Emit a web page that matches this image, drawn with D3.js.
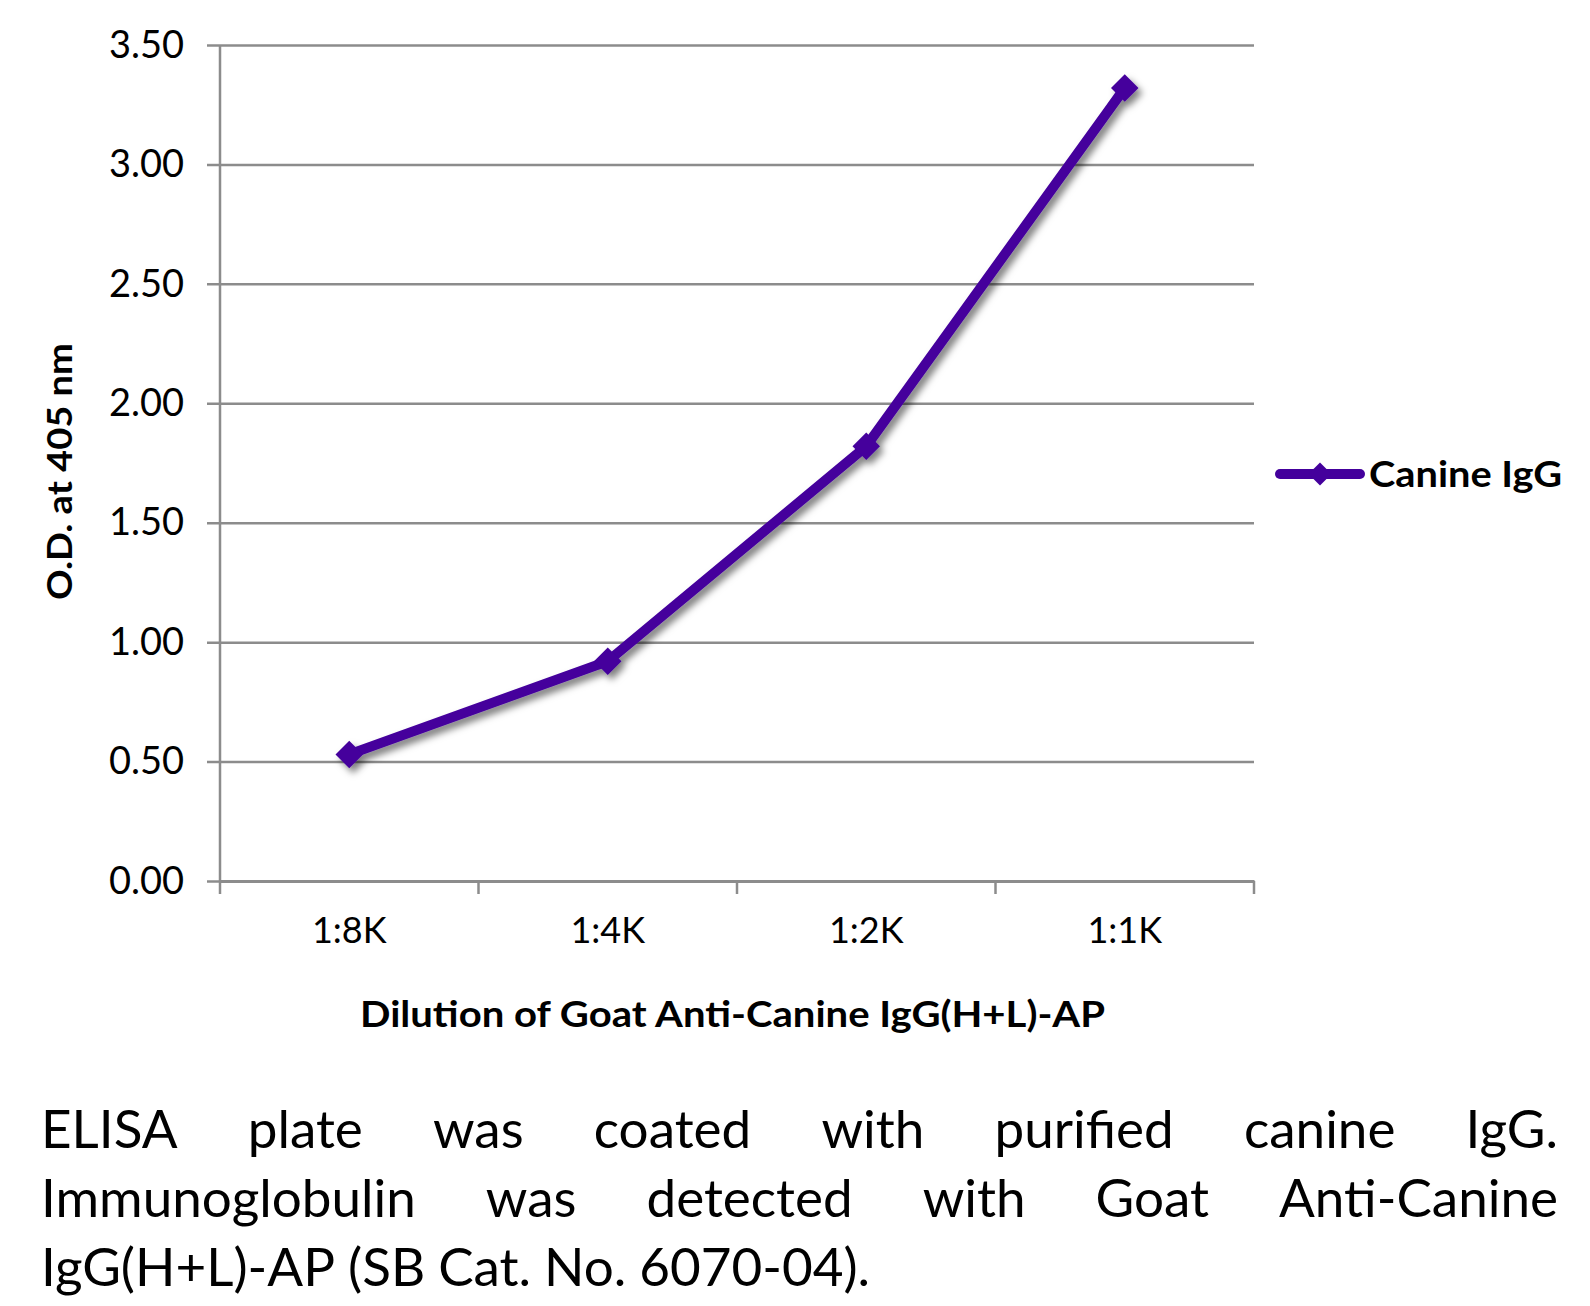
<!DOCTYPE html>
<html>
<head>
<meta charset="utf-8">
<script src="https://cdn.jsdelivr.net/npm/d3@7"></script>
<style>
  body { margin: 0; background: #fff; }
  svg { display: block; }
</style>
</head>
<body>
<svg id="chart" width="1590" height="1306"></svg>
<script>
// ---- Data ----
const dilutions = ["1:8K", "1:4K", "1:2K", "1:1K"];
const odValues = [0.53, 0.92, 1.82, 3.32];
const yTicks = [0, 0.5, 1, 1.5, 2, 2.5, 3, 3.5];
const seriesName = "Canine IgG";
const xTitle = "Dilution of Goat Anti-Canine IgG(H+L)-AP";
const yTitle = "O.D. at 405 nm";
const captionLines = [
  ["ELISA", "plate", "was", "coated", "with", "purified", "canine", "IgG."],
  ["Immunoglobulin", "was", "detected", "with", "Goat", "Anti-Canine"],
  ["IgG(H+L)-AP", "(SB", "Cat.", "No.", "6070-04)."]
];

// ---- Layout ----
const plot = { left: 220, right: 1254, top: 45, bottom: 881 };
const purple = "#44009c";
const gridColor = "#8c8c8c";
const font = "Lato, 'Open Sans', sans-serif";

const svg = d3.select("#chart");

const defs = svg.append("defs");
const shadow = defs.append("filter").attr("id", "shadow")
  .attr("x", "-20%").attr("y", "-20%").attr("width", "140%").attr("height", "140%");
shadow.append("feDropShadow")
  .attr("dx", 4).attr("dy", 5).attr("stdDeviation", 3.5)
  .attr("flood-color", "#000").attr("flood-opacity", 0.5);

const x = d3.scaleBand().domain(dilutions).range([plot.left, plot.right]);
const y = d3.scaleLinear().domain([0, 3.5]).range([plot.bottom, plot.top]);

// ---- Gridlines + y axis ----
const yAxis = d3.axisLeft(y).tickValues(yTicks)
  .tickFormat(d3.format(".2f"))
  .tickSize(-(plot.right - plot.left + 13));

const yg = svg.append("g")
  .attr("transform", `translate(${plot.left - 13},0)`)
  .call(yAxis);
yg.select(".domain").remove();
yg.selectAll(".tick line")
  .attr("stroke", gridColor).attr("stroke-width", 2.5);
yg.selectAll(".tick text")
  .attr("x", -23)
  .style("font-family", font).style("font-size", "38px").attr("fill", "#000");

// vertical axis line
svg.append("line")
  .attr("x1", plot.left).attr("x2", plot.left)
  .attr("y1", plot.top).attr("y2", plot.bottom)
  .attr("stroke", gridColor).attr("stroke-width", 2.5);

// ---- x axis ----
const xg = svg.append("g")
  .attr("transform", `translate(0,${plot.bottom})`)
  .call(d3.axisBottom(x).tickSize(0).tickPadding(36));
xg.select(".domain").attr("stroke", gridColor).attr("stroke-width", 3);
xg.selectAll(".tick text")
  .style("font-family", font).style("font-size", "36px").attr("fill", "#000");

// boundary ticks between categories
const boundaries = dilutions.map(d => x(d)).concat([plot.right]);
svg.append("g").selectAll("line")
  .data(boundaries)
  .join("line")
  .attr("x1", d => d).attr("x2", d => d)
  .attr("y1", plot.bottom).attr("y2", plot.bottom + 13)
  .attr("stroke", gridColor).attr("stroke-width", 2.5);

// ---- Titles ----
svg.append("text")
  .attr("x", 360)
  .attr("y", 1027)
  .attr("textLength", 745).attr("lengthAdjust", "spacingAndGlyphs")
  .style("font-family", font).style("font-size", "37px").style("font-weight", "bold")
  .text(xTitle);

svg.append("text")
  .attr("transform", "translate(72,600) rotate(-90)")
  .attr("textLength", 257).attr("lengthAdjust", "spacingAndGlyphs")
  .style("font-family", font).style("font-size", "35px").style("font-weight", "bold")
  .text(yTitle);

// ---- Series ----
const pts = dilutions.map((d, i) => ({ k: d, v: odValues[i] }));
const series = svg.append("g").attr("filter", "url(#shadow)");

series.append("path")
  .datum(pts)
  .attr("d", d3.line().x(d => x(d.k) + x.bandwidth() / 2).y(d => y(d.v)))
  .attr("fill", "none").attr("stroke", purple)
  .attr("stroke-width", 10).attr("stroke-linejoin", "round");

const diamond = d3.symbol().type(d3.symbolDiamond2).size(480);
series.selectAll(".marker")
  .data(pts)
  .join("path")
  .attr("class", "marker")
  .attr("transform", d => `translate(${x(d.k) + x.bandwidth() / 2},${y(d.v)})`)
  .attr("d", diamond)
  .attr("fill", purple);

// ---- Legend ----
const legend = svg.append("g").attr("transform", "translate(1280,474)");
legend.append("line")
  .attr("x1", 0).attr("x2", 80)
  .attr("stroke", purple).attr("stroke-width", 10).attr("stroke-linecap", "round");
legend.append("path").attr("d", d3.symbol().type(d3.symbolDiamond2).size(340))
  .attr("transform", "translate(40,0)").attr("fill", purple);
legend.append("text")
  .attr("x", 89).attr("y", 13)
  .attr("textLength", 193).attr("lengthAdjust", "spacingAndGlyphs")
  .style("font-family", font).style("font-size", "37px").style("font-weight", "bold")
  .text(seriesName);

// ---- Caption (justified) ----
const capLeft = 41, capRight = 1558;
const capBaselines = [1148, 1217, 1286];
captionLines.forEach((words, li) => {
  const row = svg.append("g");
  const texts = words.map(w => row.append("text")
    .attr("y", capBaselines[li])
    .style("font-family", font).style("font-size", "53px")
    .text(w));
  const widths = texts.map(t => t.node().getComputedTextLength());
  const total = d3.sum(widths);
  const last = li === captionLines.length - 1;
  const gap = last ? 13 : (capRight - capLeft - total) / (words.length - 1);
  let cx = capLeft;
  texts.forEach((t, i) => { t.attr("x", cx); cx += widths[i] + gap; });
});
</script>
</body>
</html>
